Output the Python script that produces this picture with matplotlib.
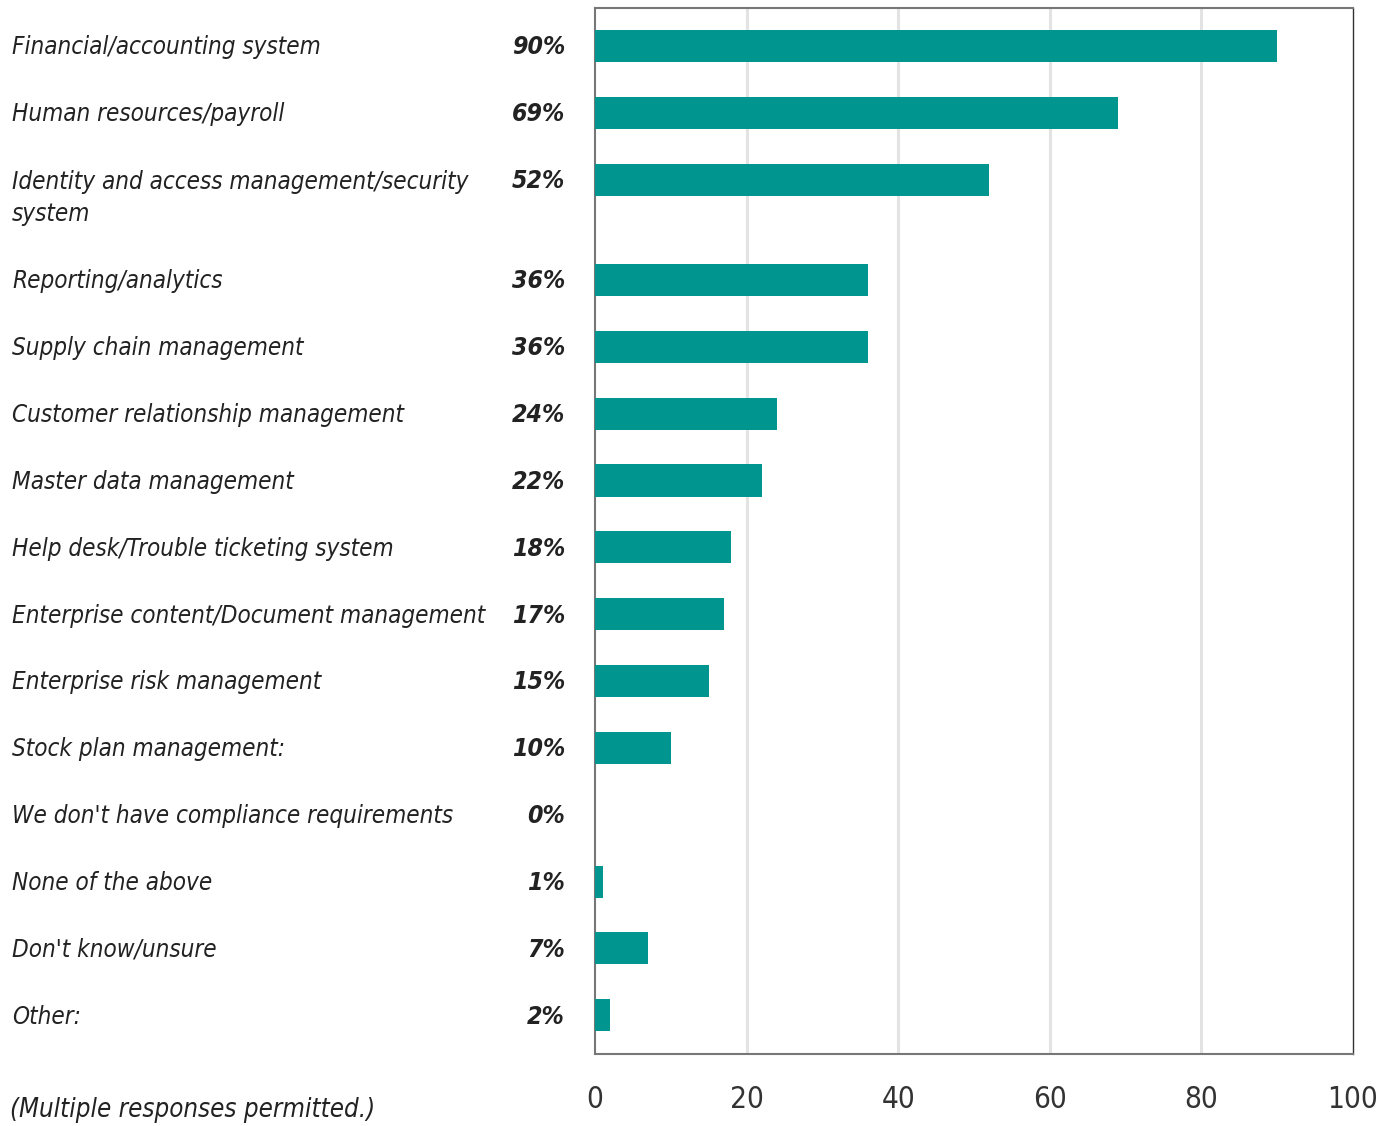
import matplotlib
matplotlib.use('Agg')
import matplotlib.pyplot as plt
from matplotlib import font_manager as fm
import numpy as np

categories = [
    'Financial/accounting system',
    'Human resources/payroll',
    'Identity and access management/security\nsystem',
    'Reporting/analytics',
    'Supply chain management',
    'Customer relationship management',
    'Master data management',
    'Help desk/Trouble ticketing system',
    'Enterprise content/Document management',
    'Enterprise risk management',
    'Stock plan management:',
    "We don't have compliance requirements",
    'None of the above',
    "Don't know/unsure",
    'Other:',
]
values = [90, 69, 52, 36, 36, 24, 22, 18, 17, 15, 10, 0, 1, 7, 2]
xticks = [0, 20, 40, 60, 80, 100]
footnote = '(Multiple responses permitted.)'

# look for a narrow face, the reference uses a condensed sans
narrow = [f for f in fm.fontManager.ttflist
          if f.stretch in ('condensed', 'semi-condensed', 'extra-condensed', 'ultra-condensed')
          or 'Narrow' in f.name or 'Condensed' in f.name]
if narrow:
    fam = narrow[0].name
    stretch = narrow[0].stretch
else:
    fam = 'Roboto'
    stretch = 'normal'
plt.rcParams['font.family'] = [fam, 'DejaVu Sans']
plt.rcParams['font.stretch'] = stretch

teal = '#00968f'
ink = '#222222'

# rows with a wrapped label take extra room
pos = []
y = 0.0
for c in categories:
    pos.append(y)
    y += 1.5 if '\n' in c else 1.0
pos = np.array(pos)

fig = plt.figure(figsize=(13.85, 11.26), dpi=100)
ax = fig.add_axes([595/1385, 1 - 1054/1126, 758/1385, 1046/1126])

# fit the font so the longest label ends near x=485 px like the reference
r = fig.canvas.get_renderer()
probe = fig.text(0, 0, 'Enterprise content/Document management', fontsize=20, style='italic')
w = probe.get_window_extent(r).width
probe.remove()
fs = min(22, 20 * 473 / w)

ax.barh(pos, values, height=0.48, color=teal, zorder=3)
ax.set_xlim(0, 100)
ax.set_ylim(pos[-1] + 0.58, pos[0] - 0.57)
ax.set_xticks(xticks)
ax.set_xticklabels([str(t) for t in xticks], fontsize=fs + 4, color='#333333')
ax.set_yticks([])
ax.tick_params(axis='x', length=0, pad=22)
for t in xticks[1:-1]:
    ax.axvline(t, color='#e3e3e3', lw=2.2, zorder=1)

for s in ['left', 'bottom', 'top']:
    ax.spines[s].set_color('#777777')
    ax.spines[s].set_linewidth(1.5)
ax.spines['right'].set_color('#333333')
ax.spines['right'].set_linewidth(1.0)

tr = ax.get_yaxis_transform()
for p, c, v in zip(pos, categories, values):
    yy = p + 0.27 if '\n' in c else p + 0.02
    ax.text(-583/758, yy, c, transform=tr, ha='left', va='center',
            fontsize=fs, style='italic', color=ink, linespacing=1.45)
    ax.text(-30/758, p + 0.02, f'{v}%', transform=tr, ha='right', va='center',
            fontsize=fs + 0.5, style='italic', fontweight='bold', color=ink)

fig.text(10/1385, 1 - 1110/1126, footnote, ha='left', va='center',
         fontsize=fs * 1.07, style='italic', color=ink)

fig.savefig('out.png', dpi=100)
